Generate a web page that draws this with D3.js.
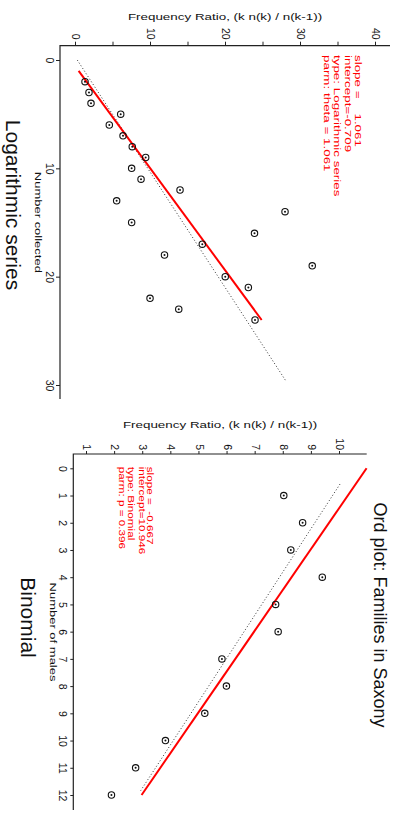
<!DOCTYPE html>
<html>
<head>
<meta charset="utf-8">
<script src="https://cdn.jsdelivr.net/npm/d3@7"></script>
<style>
  body { margin: 0; background: #fff; }
  text { font-family: "Liberation Sans", Arial, sans-serif; fill: #111; }
</style>
</head>
<body>
<div id="chart"></div>
<script>
'use strict';
//values
//left panel: logarithmic series
const logK = [2, 3, 4, 5, 6, 7, 8, 9, 10, 11, 12, 13, 14, 15, 16, 17, 18, 19, 20, 21, 22, 23, 24];
const logRatio = [1.2, 1.73, 2.0, 5.96, 4.44, 6.27, 7.5, 9.29, 7.42, 8.67, 13.87, 5.42, 27.87, 7.42,
                  23.8, 16.84, 11.8, 31.5, 19.9, 22.98, 9.87, 13.7, 23.87];
const logFitK = [1, 24];
const logFit = { slope: 1.061, intercept: -0.709 };
const logDotted = [[0, 0.17], [29.6, 27.96]];
const logXTicks = [0, 10, 20, 30];
const logYTicks = [0, 5, 10, 15, 20, 25, 30, 35, 40];
const logLegend = ["slope =    1.061", "intercept=-0.709", "type: Logarithmic series", "parm: theta = 1.061"];

//right panel: binomial (families in Saxony)
const binK = [1, 2, 3, 4, 5, 6, 7, 8, 9, 10, 11, 12];
const binRatio = [8.0, 8.67, 8.25, 9.37, 7.71, 7.8, 5.8, 5.96, 5.19, 3.79, 2.73, 1.87];
const binFitK = [0, 12];
const binFit = { slope: -0.667, intercept: 10.946 };
const binDotted = [[0.58, 10.0], [11.84, 2.91]];
const binXTicks = [0, 1, 2, 3, 4, 5, 6, 7, 8, 9, 10, 11, 12];
const binYTicks = [1, 2, 3, 4, 5, 6, 7, 8, 9, 10];
const binLegend = ["slope =  -0.667", "intercept=10.946", "type: Binomial", "parm: p = 0.396"];

const yLabel = "Frequency Ratio, (k n(k) / n(k-1))";

//the chart is drawn landscape (817 x 393) and turned a quarter clockwise
const svg = d3.select("#chart").append("svg")
    .attr("width", 393)
    .attr("height", 817);
const page = svg.append("g")
    .attr("transform", "translate(393,0) rotate(90)");

//text helper, sx stretches the glyphs along the reading direction
function label(g, txt, x, y, size, sx, anchor, rot, color) {
    return g.append("text")
        .attr("transform", "translate(" + x + "," + y + ") rotate(" + (rot || 0) + ") scale(" + sx + ",1)")
        .style("font-size", size + "px")
        .style("text-anchor", anchor)
        .style("white-space", "pre")
        .style("fill", color || "#111")
        .text(txt);
}

function panel(p) {
    const g = page.append("g");
    const x = d3.scaleLinear().domain(p.xDomain).range(p.xRange);
    const y = d3.scaleLinear().domain(p.yDomain).range(p.yRange);

    //L shaped frame
    g.append("path")
        .attr("d", "M" + p.frame.left + "," + p.frame.top + "V" + p.frame.bottom + "H" + p.frame.right)
        .attr("fill", "none")
        .attr("stroke", "#222")
        .attr("stroke-width", 1.2);

    const xAxis = g.append("g")
        .attr("transform", "translate(0," + p.frame.bottom + ")")
        .call(d3.axisBottom(x).tickValues(p.xTicks).tickSize(p.xTickSize).tickPadding(p.xPad));
    const yAxis = g.append("g")
        .attr("transform", "translate(" + p.frame.left + ",0)")
        .call(d3.axisLeft(y).tickValues(p.yTicks).tickSize(p.yTickSize).tickPadding(p.yPad)
            .tickFormat(p.yFormat || d3.format("d")));
    [xAxis, yAxis].forEach(function(a) {
        a.select(".domain").remove();
        a.selectAll("line").attr("stroke", "#222");
        a.selectAll("text").style("font-size", "10.5px").attr("fill", "#111");
    });

    //unweighted line (dotted)
    g.append("path")
        .datum(p.dotted)
        .attr("d", d3.line().x(function(d) { return x(d[0]); }).y(function(d) { return y(d[1]); }))
        .attr("stroke", "#333")
        .attr("stroke-width", 1)
        .attr("stroke-dasharray", "1,2.2")
        .attr("fill", "none");

    //fitted line (red)
    g.append("path")
        .datum(p.fitK)
        .attr("d", d3.line()
            .x(function(d) { return x(d); })
            .y(function(d) { return y(p.fit.intercept + p.fit.slope * d); }))
        .attr("stroke", "#ff0000")
        .attr("stroke-width", 2)
        .attr("fill", "none");

    //points: circle with a dot
    const pts = g.selectAll(".pt")
        .data(p.k.map(function(k, i) { return { k: k, r: p.ratio[i] }; }))
        .enter().append("g")
        .attr("class", "pt")
        .attr("transform", function(d) { return "translate(" + x(d.k) + "," + y(d.r) + ")"; });
    pts.append("circle").attr("r", 3.2).attr("fill", "none").attr("stroke", "#111").attr("stroke-width", 1.1);
    pts.append("circle").attr("r", 1).attr("fill", "#111");

    //legend text
    p.legend.forEach(function(t, i) {
        label(g, t, p.legendX, p.legendY[i], p.legendSize, p.legendSx, "start", 0, "#ff0000");
    });

    label(g, yLabel, p.yLabelX, (p.frame.top + p.frame.bottom) / 2, 9.5, 1.41, "middle", -90);
    label(g, p.xLabel, (p.frame.left + p.frame.right) / 2, p.xLabelY, 9.5, 1.37, "middle", 0);
    label(g, p.name, p.nameX, p.nameY, 21, 1, "middle", 0);
}

panel({
    k: logK, ratio: logRatio, fit: logFit, fitK: logFitK, dotted: logDotted,
    xDomain: [0, 30], xRange: [60, 385], yDomain: [0, 40], yRange: [317, 17],
    frame: { left: 45.7, right: 399, top: 3, bottom: 333 },
    xTicks: logXTicks, yTicks: logYTicks,
    xTickSize: 4, xPad: 2.2, yTickSize: 4, yPad: 2,
    yFormat: function(d) { return d % 10 === 0 ? d : ""; },
    legend: logLegend, legendX: 55, legendY: [38.5, 48.5, 59.5, 69], legendSize: 9, legendSx: 1.49,
    yLabelX: 19.8, xLabel: "Number collected", xLabelY: 358,
    name: "Logarithmic series", nameX: 205, nameY: 387
});

panel({
    k: binK, ratio: binRatio, fit: binFit, fitK: binFitK, dotted: binDotted,
    xDomain: [0, 12], xRange: [468.3, 795], yDomain: [1, 10], yRange: [306, 53],
    frame: { left: 454, right: 810, top: 26.3, bottom: 319.7 },
    xTicks: binXTicks, yTicks: binYTicks,
    xTickSize: 3, xPad: 3.5, yTickSize: 3, yPad: 1,
    legend: binLegend, legendX: 466.7, legendY: [246, 254.5, 265.5, 274], legendSize: 8.5, legendSx: 1.38,
    yLabelX: 428, xLabel: "Number of males", xLabelY: 343,
    name: "Binomial", nameX: 617.5, nameY: 372.3
});

//main title over the right panel
label(page, "Ord plot: Families in Saxony", 615, 19.2, 18, 1, "middle", 0);
</script>
</body>
</html>
